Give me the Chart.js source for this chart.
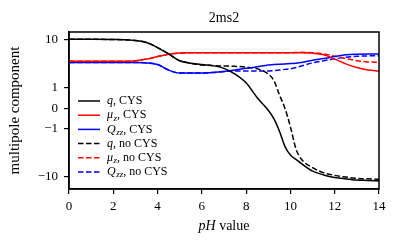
<!DOCTYPE html>
<html lang="en">
<head>
<meta charset="UTF-8">
<title>2ms2</title>
<script src="https://cdn.jsdelivr.net/npm/chart.js"></script>
<style>
  html, body { margin: 0; padding: 0; background: #fff; }
  #wrap { width: 399px; height: 245px; }
</style>
</head>
<body>
<div id="wrap"><canvas id="chart" width="399" height="245"></canvas></div>
<script>
// pH grid shared by all curves
const phValues = [0, 1, 2, 2.5, 3, 3.5, 4, 4.5, 5, 5.5, 6, 6.5, 7, 7.5, 8, 8.5, 9, 9.25, 9.5, 9.75, 10, 10.25, 10.5, 11, 11.5, 12, 12.5, 13, 13.5, 14];

const qCys     = [10.1, 10.1, 10.0, 9.9, 9.5, 8.7, 6.8, 5.0, 3.6, 3.2, 3.0, 2.85, 2.5, 1.9, 1.25, 0.5, -0.1, -0.5, -1.1, -2.3, -3.5, -4.3, -5.3, -7.6, -9.1, -10.3, -11.0, -11.6, -11.9, -12.2];
const muCys    = [3.5, 3.5, 3.5, 3.5, 3.6, 3.9, 4.4, 4.9, 5.2, 5.3, 5.3, 5.3, 5.3, 5.3, 5.3, 5.3, 5.3, 5.3, 5.3, 5.3, 5.3, 5.3, 5.3, 5.2, 4.8, 3.9, 3.1, 2.6, 2.3, 2.2];
const qzzCys   = [3.3, 3.3, 3.3, 3.3, 3.3, 3.25, 3.0, 2.3, 2.0, 2.0, 2.0, 2.05, 2.15, 2.3, 2.5, 2.7, 2.95, 3.0, 3.05, 3.1, 3.15, 3.2, 3.3, 3.7, 4.0, 4.4, 4.8, 4.95, 5.0, 5.0];
const qNoCys   = [10.1, 10.1, 10.0, 9.9, 9.5, 8.7, 6.8, 5.0, 3.6, 3.2, 2.95, 2.85, 2.8, 2.75, 2.65, 2.45, 1.9, 1.4, 0.65, 0.0, -0.9, -2.6, -4.3, -6.4, -8.2, -9.3, -10.1, -10.7, -11.0, -11.2];
const muNoCys  = [3.5, 3.5, 3.5, 3.5, 3.6, 3.9, 4.4, 4.9, 5.2, 5.3, 5.3, 5.3, 5.3, 5.3, 5.3, 5.3, 5.3, 5.3, 5.3, 5.3, 5.3, 5.35, 5.4, 5.3, 5.0, 4.5, 4.0, 3.6, 3.4, 3.35];
const qzzNoCys = [3.3, 3.3, 3.3, 3.3, 3.3, 3.25, 3.0, 2.3, 2.0, 2.0, 2.0, 2.05, 2.15, 2.2, 2.2, 2.2, 2.2, 2.25, 2.3, 2.38, 2.45, 2.6, 2.8, 3.25, 3.6, 3.95, 4.25, 4.45, 4.55, 4.6];

const seriesLabels = ['q, CYS', 'μ_z, CYS', 'Q_zz, CYS', 'q, no CYS', 'μ_z, no CYS', 'Q_zz, no CYS'];
const yTickValues = [-10, -1, 0, 1, 10];
const yTickLabels = ['\u221210', '\u22121', '0', '1', '10'];

const SERIF = '"Liberation Serif", "DejaVu Serif", serif';

// symmetric log (linthresh 1)
const LIN = 0.434;
function symlog(v) {
    const a = Math.abs(v);
    if (a <= 1) return v * LIN;
    return Math.sign(v) * (LIN + Math.log10(a));
}

function pts(values) {
    return phValues.map((x, i) => ({ x: x, y: symlog(values[i]) }));
}

function makeSet(label, values, color, dashed) {
    return {
        label: label,
        data: pts(values),
        borderColor: color,
        backgroundColor: color,
        borderWidth: 1.5,
        borderDash: dashed ? [5.5, 2.5] : [],
        pointRadius: 0,
        fill: false,
        cubicInterpolationMode: 'monotone'
    };
}

// draws title, frame, x label and the legend
const decorPlugin = {
    id: 'decor',
    afterDraw(chart) {
        const ctx = chart.ctx;
        const a = chart.chartArea;
        ctx.save();
        ctx.strokeStyle = '#000';
        ctx.lineWidth = 1.5;
        ctx.strokeRect(a.left, a.top, a.right - a.left, a.bottom - a.top);

        const cx = (a.left + a.right) / 2;
        ctx.fillStyle = '#000';
        ctx.textBaseline = 'middle';
        ctx.textAlign = 'center';
        ctx.font = '14px ' + SERIF;
        ctx.fillText('2ms2', cx, 18);

        // x axis label, pH in italics
        ctx.textAlign = 'left';
        const it = 'italic 14px ' + SERIF, rm = '14px ' + SERIF;
        ctx.font = it; const w1 = ctx.measureText('pH').width;
        ctx.font = rm; const w2 = ctx.measureText(' value').width;
        let x0 = cx - (w1 + w2) / 2;
        ctx.font = it; ctx.fillText('pH', x0, 226);
        ctx.font = rm; ctx.fillText(' value', x0 + w1, 226);

        // legend
        chart.data.datasets.forEach((ds, i) => {
            const y = a.top + 69 + i * 14.2;
            ctx.strokeStyle = ds.borderColor;
            ctx.lineWidth = 1.5;
            ctx.setLineDash(ds.borderDash);
            ctx.beginPath();
            ctx.moveTo(a.left + 9, y);
            ctx.lineTo(a.left + 31, y);
            ctx.stroke();
            ctx.setLineDash([]);

            const comma = ds.label.indexOf(',');
            const sym = ds.label.slice(0, comma);
            const rest = ds.label.slice(comma);
            const parts = sym.split('_');
            let x = a.left + 38;
            ctx.fillStyle = '#000';
            ctx.font = 'italic 12px ' + SERIF;
            ctx.fillText(parts[0], x, y);
            x += ctx.measureText(parts[0]).width;
            if (parts[1]) {
                ctx.font = 'italic 9px ' + SERIF;
                ctx.fillText(parts[1], x + 0.5, y + 3);
                x += ctx.measureText(parts[1]).width + 0.5;
            }
            ctx.font = '12px ' + SERIF;
            ctx.fillText(rest, x, y);
        });
        ctx.restore();
    }
};

new Chart(document.getElementById('chart'), {
    type: 'line',
    data: {
        datasets: [
            makeSet(seriesLabels[0], qCys, '#000000', false),
            makeSet(seriesLabels[1], muCys, '#ff0000', false),
            makeSet(seriesLabels[2], qzzCys, '#0000ff', false),
            makeSet(seriesLabels[3], qNoCys, '#000000', true),
            makeSet(seriesLabels[4], muNoCys, '#ff0000', true),
            makeSet(seriesLabels[5], qzzNoCys, '#0000ff', true)
        ]
    },
    options: {
        responsive: false,
        animation: false,
        layout: { padding: { top: 32, right: 20, left: 0, bottom: 0 } },
        plugins: {
            legend: { display: false },
            tooltip: { enabled: false },
            title: { display: false }
        },
        scales: {
            x: {
                type: 'linear',
                min: 0,
                max: 14,
                afterFit(scale) { scale.height = 56; },
                ticks: {
                    stepSize: 2,
                    color: '#000',
                    padding: 5,
                    maxRotation: 0,
                    font: { family: SERIF, size: 13 }
                },
                grid: { drawOnChartArea: false, color: '#000', tickLength: 5, lineWidth: 1.2 },
                border: { color: '#000', width: 1.5 }
            },
            y: {
                type: 'linear',
                min: -1.687,
                max: 1.591,
                afterFit(scale) { scale.width = 69; },
                afterBuildTicks(scale) {
                    scale.ticks = yTickValues.map(v => ({ value: symlog(v) }));
                },
                ticks: {
                    color: '#000',
                    padding: 6,
                    font: { family: SERIF, size: 13 },
                    callback: (val, idx) => yTickLabels[idx]
                },
                title: {
                    display: true,
                    text: 'multipole component',
                    color: '#000',
                    padding: { top: 6, bottom: 0 },
                    font: { family: SERIF, size: 15 }
                },
                grid: { drawOnChartArea: false, color: '#000', tickLength: 5, lineWidth: 1.2 },
                border: { color: '#000', width: 1.5 }
            }
        }
    },
    plugins: [decorPlugin]
});
</script>
</body>
</html>
